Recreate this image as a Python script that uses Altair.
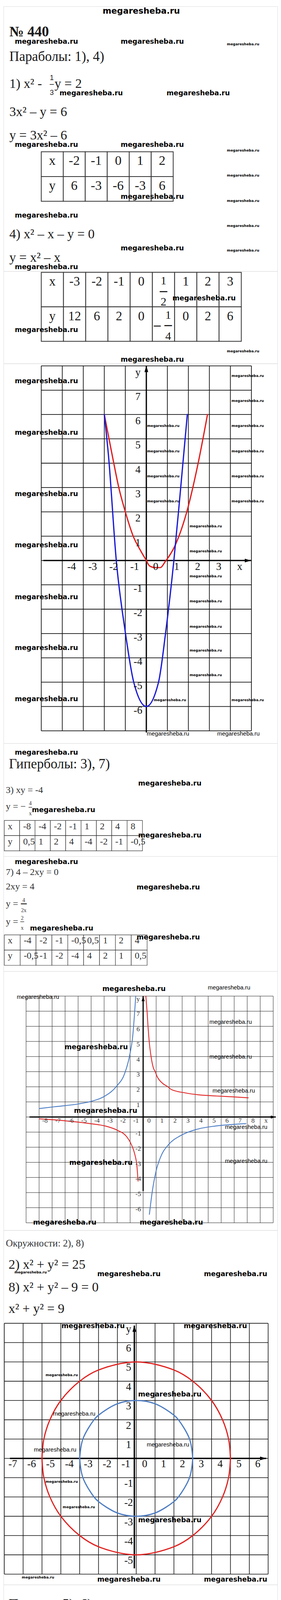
import altair as alt
import pandas as pd

W = 704
SERIF = "Liberation Serif"
WMF = "DejaVu Sans"
SANS = "Liberation Sans"
INK = "#1a1a1a"
GREY = "#333333"
WM = "megaresheba.ru"

# ---------------- values ----------------
t1_x = ["x", "-2", "-1", "0", "1", "2"]
t1_y = ["y", "6", "-3", "-6", "-3", "6"]
t2_x = ["x", "-3", "-2", "-1", "0", "1/2", "1", "2", "3"]
t2_y = ["y", "12", "6", "2", "0", "-1/4", "0", "2", "6"]
t3_x = ["x", "-8", "-4", "-2", "-1", "1", "2", "4", "8"]
t3_y = ["y", "0,5", "1", "2", "4", "-4", "-2", "-1", "-0,5"]
t4_x = ["x", "-4", "-2", "-1", "-0,5", "0,5", "1", "2", "4"]
t4_y = ["y", "-0,5", "-1", "-2", "-4", "4", "2", "1", "0,5"]
t5_x = ["x", "0", "3"]
t5_y = ["y", "6", "0"]

# graph 1 (parabolas)
par_blue_x = [-2.0, -1.8, -1.43, -1.0, -0.6, 0.0, 0.58, 0.92, 1.31, 1.6, 1.95]
par_blue_y = [6.0, 4.3, 0.0, -2.95, -5.0, -6.0, -5.0, -2.95, 0.0, 2.66, 6.0]
par_red_x = [-2.0, -1.64, -1.3, -1.0, -0.62, -0.27, 0.0, 0.15, 0.41, 0.67, 0.88, 1.39, 1.95, 2.46, 2.91]
par_red_y = [6.0, 4.4, 2.96, 2.0, 0.99, 0.4, 0.0, -0.22, -0.29, -0.29, -0.07, 0.66, 2.08, 3.98, 6.0]

# graph 2 (hyperbolas)
hyp_red_r_x = [0.21, 0.3, 0.37, 0.48, 0.62, 0.79, 0.93, 1.06, 1.48, 1.9, 2.17, 3.27, 4.24, 5.62, 7.0, 8.08]
hyp_red_r_y = [8.0, 7.0, 6.06, 4.88, 3.94, 3.24, 3.0, 2.71, 2.24, 2.0, 1.82, 1.59, 1.47, 1.39, 1.33, 1.27]
hyp_red_l_x = [-7.98, -6.12, -4.05, -2.94, -1.98, -1.28, -0.94, -0.66, -0.48, -0.39]
hyp_red_l_y = [-0.12, -0.24, -0.44, -0.59, -0.88, -1.29, -1.76, -2.41, -3.24, -4.24]
hyp_blue_l_x = [-7.98, -6.81, -5.01, -3.98, -3.01, -2.04, -1.42, -1.04, -0.8, -0.57]
hyp_blue_l_y = [0.56, 0.68, 0.86, 1.04, 1.35, 2.04, 2.88, 4.06, 5.35, 8.0]
hyp_blue_r_x = [0.48, 0.69, 0.99, 1.34, 1.96, 2.86, 4.1, 5.62, 7.9]
hyp_blue_r_y = [-6.44, -5.0, -3.59, -2.65, -1.82, -1.24, -0.82, -0.59, -0.44]

# graph 3 (circles): grid crossings, upper and lower halves
circ_red_x = [-5, -4.9, -4.58, -4, -3, -2, 0, 2, 3, 4, 4.58, 4.9, 5]
circ_red_up = [0, 1, 2, 3, 4, 4.58, 5, 4.58, 4, 3, 2, 1, 0]
circ_red_dn = [0, -1, -2, -3, -4, -4.58, -5, -4.58, -4, -3, -2, -1, 0]
circ_blue_x = [-3, -2.83, -2.24, -2, -1, 0, 1, 2, 2.24, 2.83, 3]
circ_blue_up = [0, 1, 2, 2.24, 2.83, 3, 2.83, 2.24, 2, 1, 0]
circ_blue_dn = [0, -1, -2, -2.24, -2.83, -3, -2.83, -2.24, -2, -1, 0]

# graph 4 (lines)
line_blue_x = [-0.55, 3.72]
line_blue_y = [6.9, -1.45]
line_red_x = [-6.6, 6.8]
line_red_y = [2.0, 2.0]


# ---------------- helpers ----------------
def tlayer(items, top, size, font=SERIF, weight="normal", color=INK,
           align="left", baseline="alphabetic"):
    df = pd.DataFrame({"px": [a - 8 for a, b, c in items],
                       "py": [b - top for a, b, c in items],
                       "t": [c for a, b, c in items]})
    return alt.Chart(df).mark_text(font=font, fontSize=size, fontWeight=weight,
                                   color=color, align=align, baseline=baseline).encode(
        x=alt.X("px:Q", scale=None, axis=None),
        y=alt.Y("py:Q", scale=None, axis=None),
        text="t:N")


def bar(x, y, width, top):
    # typographic fraction bar centred at (x, y)
    return tlayer([(x, y + 0.3 * width, "—")], top, width, WMF, "bold", INK, "center")


def wm_layers(top, big=(), small=(), reg=()):
    out = []
    if big:
        out.append(tlayer([(x, y, WM) for x, y in big], top, 17.6, WMF, "bold", "#000", "left", "middle"))
    if small:
        out.append(tlayer([(x, y, WM) for x, y in small], top, 9, WMF, "bold", "#000", "left", "middle"))
    if reg:
        out.append(tlayer([(x, y, WM) for x, y in reg], top, 15, SANS, "normal", "#000", "left", "middle"))
    return out


def table(xrow, yrow, xr, yr, size, color, sw, align="center", pad=9, dy=0):
    n = len(xrow)
    cols = ["c%d" % i for i in range(n)]
    recs = [{"col": cols[i], "row": r, "t": v}
            for r, vals in (("x", xrow), ("y", yrow)) for i, v in enumerate(vals)]
    df = pd.DataFrame(recs)
    X = alt.X("col:N", scale=alt.Scale(domain=cols, range=list(xr), paddingInner=0, paddingOuter=0), axis=None)
    Y = alt.Y("row:N", scale=alt.Scale(domain=["x", "y"], range=list(yr), paddingInner=0, paddingOuter=0), axis=None)
    bw = (xr[1] - xr[0]) / n
    dx = 0 if align == "center" else -bw / 2 + pad
    plain = df[~df["t"].str.contains("/")]
    L = [alt.Chart(df).mark_rect(fill="white", stroke="#333", strokeWidth=sw).encode(x=X, y=Y),
         alt.Chart(plain).mark_text(font=SERIF, fontSize=size, color=color, align=align,
                                    baseline="alphabetic", dx=dx, dy=dy).encode(x=X, y=Y, text="t:N")]
    fr = df[df["t"].str.contains("/")].copy()
    for _, r in fr.iterrows():
        neg = r["t"].startswith("-")
        num, den = r["t"].lstrip("-").split("/")
        one = pd.DataFrame([{"col": r["col"], "row": r["row"], "num": num, "den": den, "m": "—"}])
        if r["row"] == "x":
            fdx, ndy, bdy, ddy = 0, -13, 11.5, 41
        else:
            fdx, ndy, bdy, ddy = 12, -14, 10.5, 40
        base = alt.Chart(one)
        L.append(base.mark_text(font=SERIF, fontSize=30, color=color, align="center",
                                baseline="alphabetic", dx=fdx, dy=ndy).encode(x=X, y=Y, text="num:N"))
        L.append(base.mark_text(font=WMF, fontWeight="bold", fontSize=22, color=color, align="center",
                                baseline="alphabetic", dx=fdx, dy=bdy).encode(x=X, y=Y, text="m:N"))
        L.append(base.mark_text(font=SERIF, fontSize=30, color=color, align="center",
                                baseline="alphabetic", dx=fdx, dy=ddy).encode(x=X, y=Y, text="den:N"))
        if neg:
            L.append(base.mark_text(font=WMF, fontWeight="bold", fontSize=20, color=color, align="center",
                                    baseline="alphabetic", dx=-16, dy=bdy).encode(x=X, y=Y, text="m:N"))
    return L


def graph(xd, yd, xr, yr, grid_w, grid_c, xax, yax, yx, ax_w, xl_pos, xl_txt, yl_p, yl_n,
          fs, lc, xdx, xdy, ydx, ydy_p, ydy_n, arrow=256):
    xs = alt.Scale(domain=list(xd), range=list(xr), nice=False, zero=False)
    ys = alt.Scale(domain=list(yd), range=list(yr), nice=False, zero=False)

    def X(f):
        return alt.X(f, scale=xs, axis=None)

    def Y(f):
        return alt.Y(f, scale=ys, axis=None)

    gx = pd.DataFrame({"v": list(range(xd[0], xd[1] + 1))})
    gx["a"] = yd[0]
    gx["b"] = yd[1]
    gy = pd.DataFrame({"v": list(range(yd[0], yd[1] + 1))})
    gy["a"] = xd[0]
    gy["b"] = xd[1]
    L = [alt.Chart(gx).mark_rule(color=grid_c, strokeWidth=grid_w).encode(x=X("v:Q"), y=Y("a:Q"), y2="b"),
         alt.Chart(gy).mark_rule(color=grid_c, strokeWidth=grid_w).encode(y=Y("v:Q"), x=X("a:Q"), x2="b")]
    axes = pd.DataFrame({"x0": [xax[0], yx], "x1": [xax[1], yx], "y0": [0.0, yax[0]], "y1": [0.0, yax[1]]})
    A = [alt.Chart(axes).mark_rule(color="black", strokeWidth=ax_w).encode(x=X("x0:Q"), x2="x1", y=Y("y0:Q"), y2="y1"),
         alt.Chart(pd.DataFrame({"x": [xax[1]], "y": [0.0]})).mark_point(
             shape="M0,0L-2,-0.6L-2,0.6Z", filled=True, color="black", size=arrow, opacity=1, strokeWidth=0
         ).encode(x=X("x:Q"), y=Y("y:Q")),
         alt.Chart(pd.DataFrame({"x": [yx], "y": [yax[1]]})).mark_point(
             shape="M0,0L-0.6,2L0.6,2Z", filled=True, color="black", size=arrow, opacity=1, strokeWidth=0
         ).encode(x=X("x:Q"), y=Y("y:Q"))]
    xl = pd.DataFrame({"p": xl_pos, "t": xl_txt})
    xl["z"] = 0
    ylp = pd.DataFrame({"p": [p for p, t in yl_p], "t": [t for p, t in yl_p]})
    ylp["z"] = 0
    yln = pd.DataFrame({"p": [p for p, t in yl_n], "t": [t for p, t in yl_n]})
    yln["z"] = 0
    T = [alt.Chart(xl).mark_text(font=SERIF, fontSize=fs, color=lc, dx=xdx, dy=xdy, align="center",
                                 baseline="middle").encode(x=X("p:Q"), y=Y("z:Q"), text="t:N"),
         alt.Chart(ylp).mark_text(font=SERIF, fontSize=fs, color=lc, dx=ydx, dy=ydy_p, align="center",
                                  baseline="middle").encode(x=X("z:Q"), y=Y("p:Q"), text="t:N"),
         alt.Chart(yln).mark_text(font=SERIF, fontSize=fs, color=lc, dx=ydx, dy=ydy_n, align="center",
                                  baseline="middle").encode(x=X("z:Q"), y=Y("p:Q"), text="t:N")]
    return L, A, T, X, Y


def curve(xv, yv, color, width, X, Y, interp="monotone"):
    df = pd.DataFrame({"x": xv, "y": yv})
    return alt.Chart(df).mark_line(color=color, strokeWidth=width, interpolate=interp,
                                   strokeCap="round").encode(x=X("x:Q"), y=Y("y:Q"))


panels = []

# ---------------- P1: header, parabola equations, table 1 ----------------
top = 8
L = table(t1_x, t1_y, (97, 436), (373.4, 500.4), 34, INK, 2, dy=2)
L.append(tlayer([(362, 21, WM)], top, 21.5, WMF, "bold", "#000", "center", "middle"))
L.append(tlayer([(23, 85.3, "№ 440")], top, 37, SERIF, "bold"))
L.append(tlayer([(23, 148, "Параболы: 1), 4)")], top, 35))
L.append(tlayer([(23, 217.6, "1) x² -"), (139, 217.6, "y = 2"), (23, 289.4, "3x² – y = 6"),
                 (23, 350, "y = 3x² – 6"), (23, 603.5, "4) x² – x – y = 0"), (23, 664, "y = x² – x")], top, 34))
L.append(tlayer([(132, 197.4, "1"), (132, 235.6, "3")], top, 18, SANS, align="center"))
L.append(bar(132, 209, 12, top))
L += wm_layers(top,
               big=[(37, 98.7), (309, 98.7), (152, 231), (427, 231), (37, 363.5), (309, 363.5),
                    (309, 497), (37, 545), (309, 629.5), (37, 677.5)],
               small=[(582, 105.4), (582, 378), (582, 442), (582, 507), (582, 571), (582, 635)])
panels.append(alt.layer(*L).properties(width=W, height=680))

# ---------------- P2: table 2 ----------------
top = 688
L = table(t2_x, t2_y, (97, 611), (3, 180), 33, INK, 2, dy=-10)
L += wm_layers(top, big=[(442, 758), (37, 839), (309, 915)], small=[(582, 893)])
panels.append(alt.layer(*L).properties(width=W, height=237))

# ---------------- P3: graph 1 ----------------
top = 925
G, A, T, X, Y = graph((-5, 5), (-7, 8), (97, 637), (943, 6), 1.8, "#111", (-4.9, 4.98), (-7.07, 8.0), 0.0, 3.2,
                      list(range(-4, 5)), ["-4", "-3", "-2", "-1", "0", "1", "2", "3", "x"],
                      [(8, "y")] + [(k, str(k)) for k in range(7, 0, -1)],
                      [(k, str(k)) for k in range(-1, -7, -1)],
                      27, "#111", 24, 16, -21.6, 17, 10)
C = [curve(par_red_x, par_red_y, "#e01c1c", 3.2, X, Y),
     curve(par_blue_x, par_blue_y, "#1818d6", 3.2, X, Y)]
L = G + A + C + T
L += wm_layers(top,
               big=[(37, 971), (37, 1103), (37, 1260), (37, 1392), (37, 1525), (37, 1655), (37, 1787)],
               small=[(594, 956), (594, 1021), (594, 1085), (594, 1150), (594, 1214), (594, 1278), (594, 1789),
                      (377, 1085), (377, 1150), (377, 1214), (377, 1278),
                      (486, 1343), (486, 1407), (486, 1471), (486, 1535), (486, 1600), (486, 1661), (486, 1725),
                      (394, 1789)],
               reg=[(376, 1875), (557, 1875)])
panels.append(alt.layer(*L).properties(width=W, height=975))

# ---------------- P4: hyperbola title, 3), table 3 ----------------
top = 1900
L = table(t3_x, t3_y, (2, 357), (198, 276), 24, GREY, 1.2, align="left", pad=9, dy=3.5)
L.append(tlayer([(22, 1964, "Гиперболы: 3), 7)")], top, 35))
L.append(tlayer([(14, 2028, "3) xy = -4"), (14, 2070, "y = −")], top, 24, color=GREY))
L.append(tlayer([(77, 2059, "4"), (77, 2085, "x")], top, 14, color=GREY, align="center"))
L.append(bar(77, 2065, 10, top))
L += wm_layers(top, big=[(37, 1924), (354, 2003), (81, 2072), (354, 2137)])
panels.append(alt.layer(*L).properties(width=W, height=290))

# ---------------- P5: 7), table 4 ----------------
top = 2190
L = table(t4_x, t4_y, (2, 369), (202, 280), 24, GREY, 1.2, align="left", pad=9, dy=2.5)
L.append(tlayer([(14, 2238, "7) 4 – 2xy = 0"), (14, 2275, "2xy = 4"), (14, 2319, "y ="), (14, 2365, "y =")],
                top, 24, color=GREY))
L.append(tlayer([(60, 2307, "4"), (60, 2333, "2x"), (56, 2353, "2"), (56, 2378, "x")], top, 14,
                color=GREY, align="center"))
L.append(bar(60, 2312, 17, top))
L.append(bar(56, 2358, 11, top))
L += wm_layers(top, big=[(37, 2205), (350, 2270), (76, 2375), (350, 2399)])
panels.append(alt.layer(*L).properties(width=W, height=295))

# ---------------- P6: graph 2 ----------------
top = 2485
G, A, T, X, Y = graph((-9, 10), (-7, 8), (58, 693), (646, 64), 1.0, "#222", (-8.74, 10.2), (-4.9, 8.0), 0.0, 3,
                      list(range(-8, 10)), [str(k) for k in range(-8, 9)] + ["x"],
                      [(8, "y")] + [(k, str(k)) for k in range(7, 0, -1)],
                      [(k, str(k)) for k in range(-1, -7, -1)],
                      17, "#333", 15, 10, -12.7, 7.8, 4, arrow=170)
C = [curve(hyp_red_r_x, hyp_red_r_y, "#e02424", 2.2, X, Y),
     curve(hyp_red_l_x, hyp_red_l_y, "#e02424", 2.2, X, Y),
     curve(hyp_blue_l_x, hyp_blue_l_y, "#4a7bc4", 2.2, X, Y),
     curve(hyp_blue_r_x, hyp_blue_r_y, "#4a7bc4", 2.2, X, Y)]
L = G + A + C + T
L += wm_layers(top,
               big=[(262, 2531), (165, 2680), (189, 2844), (177, 2977), (84, 3130.6), (358, 3130.6)],
               reg=[(533, 2527), (42, 2551), (537, 2615.5), (537, 2704), (545, 2792), (577, 2884.5), (577, 2972)])
panels.append(alt.layer(*L).properties(width=W, height=665))

# ---------------- P7: circles ----------------
top = 3150
G, A, T, X, Y = graph((-7, 7), (-6, 7), (2, 680), (883, 239), 1.6, "#111", (-6.7, 6.9), (-5.7, 6.88), -0.1, 3.5,
                      list(range(-7, 7)), [str(k) for k in range(-7, 7)],
                      [(7, "y")] + [(k, str(k)) for k in range(6, 0, -1)],
                      [(k, str(k)) for k in range(-1, -6, -1)],
                      27, "#111", 21.8, 15, -19.5, 15, 15)
C = [curve(circ_red_x, circ_red_up, "#e0201e", 3, X, Y, "catmull-rom"),
     curve(circ_red_x, circ_red_dn, "#e0201e", 3, X, Y, "catmull-rom"),
     curve(circ_blue_x, circ_blue_up, "#4d7cc2", 3, X, Y, "catmull-rom"),
     curve(circ_blue_x, circ_blue_dn, "#4d7cc2", 3, X, Y, "catmull-rom")]
L = G + A + C + T
L.append(tlayer([(14, 3191.5, "Окружности: 2), 8)")], top, 25, color=GREY))
L.append(tlayer([(21, 3249, "2) x² + y² = 25"), (21, 3307, "8) x² + y² – 9 = 0"), (21, 3362, "x² + y² = 9")],
                top, 34))
L += wm_layers(top,
               big=[(249, 3263), (523, 3263), (157, 3396), (471, 3396), (354, 3572), (354, 3894.5),
                    (249, 4047.7), (523, 4047.7)],
               small=[(36, 3257.5), (116, 3522), (116, 3796), (160, 3861), (55, 4041.7)],
               reg=[(135, 3621), (376, 3700.5), (86, 3713)])
panels.append(alt.layer(*L).properties(width=W, height=910))

# ---------------- P8: lines title, 5), table 5 ----------------
top = 4060
L = table(t5_x, t5_y, (2, 130.5), (198.6, 314.5), 34, INK, 2, dy=2.4)
L.append(tlayer([(21, 4121.5, "Прямые: 5), 6)")], top, 35))
L.append(tlayer([(21, 4177, "5) y + 2x = 6"), (21, 4234.6, "y = 6 – 2x")], top, 34))
L += wm_layers(top, big=[(249, 4180), (523, 4180), (249, 4313), (523, 4313)],
               small=[(55, 4126), (55, 4190), (55, 4294.6), (55, 4359)])
panels.append(alt.layer(*L).properties(width=W, height=330))

# ---------------- P9: 6), graph 4, footer ----------------
top = 4390
G, A, T, X, Y = graph((-7, 7), (-3, 7), (2, 680), (685, 185), 1.6, "#111", (-6.7, 6.9), (-3.0, 7.08), -0.1, 3.5,
                      list(range(-7, 7)), [str(k) for k in range(-7, 7)],
                      [(7, "y")] + [(k, str(k)) for k in range(6, 0, -1)],
                      [(k, str(k)) for k in range(-1, -3, -1)],
                      27, "#111", 21.8, 16.5, -19.5, 15, 15)
C = [curve(line_red_x, line_red_y, "#e8181c", 3, X, Y, "linear"),
     curve(line_blue_x, line_blue_y, "#4c7fc0", 2.4, X, Y, "linear")]
L = G + A + C + T
L.append(tlayer([(21, 4439, "6) 3y – 6 = 0"), (21, 4494.5, "3y = 6"), (21, 4550, "y = 2")], top, 34))
L.append(tlayer([(362, 5092, "Мегарешеба.ру")], top, 24, SANS, "bold", "#000", "center", "middle"))
L += wm_layers(top,
               big=[(249, 4444.6), (523, 4444.6), (161, 4577), (471, 4577), (157, 4708), (471, 4708),
                    (157, 4840), (471, 4840), (350, 4990)],
               reg=[(131, 4985)])
panels.append(alt.layer(*L).properties(width=W, height=715))

chart = alt.vconcat(*panels, spacing=0, bounds="flush").properties(
    padding=0
).configure_view(strokeWidth=0, stroke="transparent").configure(background="white")

chart.save("out.html", embed_options={"renderer": "svg", "actions": False})
